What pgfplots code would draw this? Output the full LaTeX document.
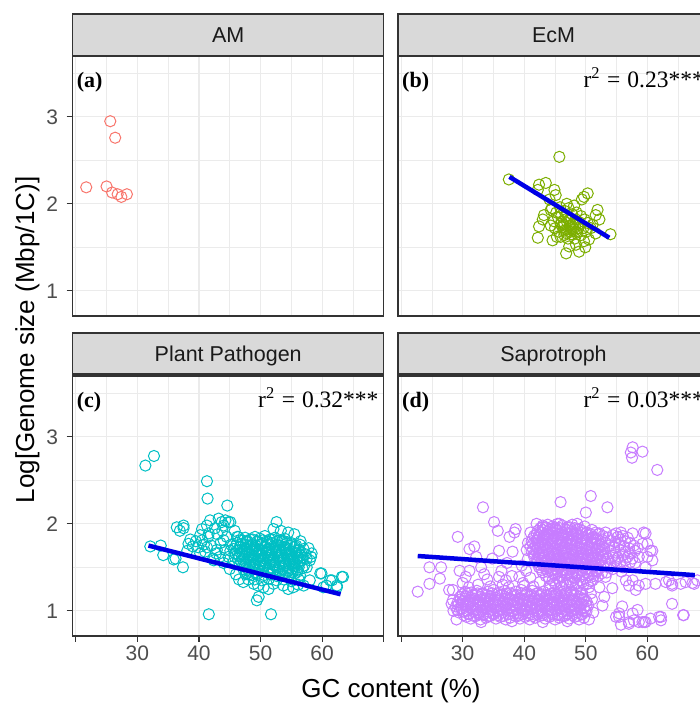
\documentclass[border=0pt]{standalone}
\usepackage{fontspec}
\setmainfont{Liberation Sans}
\newfontfamily\timesf{Liberation Serif}
\usepackage{pgfplots}
\pgfplotsset{compat=1.18}

\definecolor{amcol}{HTML}{F8766D}
\definecolor{ecmcol}{HTML}{7CAE00}
\definecolor{ppcol}{HTML}{00BFC4}
\definecolor{sapcol}{HTML}{C77CFF}
\definecolor{fitcol}{HTML}{0000E6}
\definecolor{gridc}{HTML}{EBEBEB}
\definecolor{borderc}{HTML}{333333}
\definecolor{stripc}{HTML}{D9D9D9}
\definecolor{tickc}{HTML}{4D4D4D}
\definecolor{stript}{HTML}{1A1A1A}

\pgfplotsset{
  facet/.style={
    scale only axis, width=311pt, height=260pt, anchor=south west,
    xmin=19.5, xmax=70, ymin=0.71, ymax=3.70,
    xtick={20,30,40,50,60,70}, xticklabels={,30,40,50,60,},
    ytick={1,2,3},
    minor xtick={25,35,45,55,65}, minor ytick={1.5,2.5,3.5},
    grid=both,
    major grid style={line width=1.1pt, color=gridc},
    minor grid style={line width=0.55pt, color=gridc},
    axis line style={line width=1.1pt, color=borderc},
    tick align=outside, major tick length=6pt, minor tick length=0pt,
    tick style={line width=1.1pt, color=borderc},
    xtick pos=bottom, ytick pos=left,
    ticklabel style={font=\fontsize{21}{24}\selectfont, text=tickc},
    yticklabel style={xshift=-5pt},
    /pgf/number format/assume math mode=true,
    clip marker paths=true,
  },
  pts/.style={only marks, mark=o, mark size=5.6pt, color=#1,
    mark options={line width=1pt}},
  regline/.style={no marks, line width=4.5pt, color=fitcol},
  notop/.style={xticklabels={}, xtick style={draw=none}},
  noleft/.style={yticklabels={}, ytick style={draw=none}},
}

\begin{document}
\begin{tikzpicture}
% (a) AM
\begin{axis}[facet, notop, at={(72.7pt,388pt)}]
\addplot[pts=amcol] coordinates {
 (21.7,2.19) (25.6,2.95) (26.4,2.76) (25.0,2.20) (25.9,2.13) (26.8,2.11)
 (27.4,2.08) (28.3,2.11)};
\end{axis}

% (b) EcM
\begin{axis}[facet, notop, noleft, at={(398pt,388pt)}]
\addplot[pts=ecmcol] coordinates {
 (37.5,2.28) (45.7,2.54) (42.2,1.61) (54.0,1.65) (42.4,2.22) (43.5,2.24)
 (42.2,2.16) (44.9,2.16) (45.1,2.10) (44.1,2.05) (49.7,2.08) (50.3,2.12)
 (49.35,2.05) (51.9,1.93) (51.6,1.87) (52.2,1.82) (51.1,1.76) (43.0,1.82)
 (43.2,1.87) (44.3,1.93) (42.4,1.74) (46.8,1.43) (48.9,1.45) (47.3,1.51)
 (48.4,1.53) (49.7,1.57) (50.5,1.59) (45.9,1.62) (51.6,1.66)
 (44.5,1.95) (45.2,1.90) (45.8,1.96) (46.5,1.92) (47.2,1.95) (47.8,1.88)
 (48.5,1.90) (49.2,1.86) (49.8,1.82) (50.3,1.78) (44.8,1.80) (45.5,1.84)
 (46.1,1.79) (46.7,1.85) (47.3,1.81) (47.9,1.77) (48.4,1.82) (49.0,1.76)
 (49.6,1.72) (50.1,1.68) (45.0,1.72) (45.6,1.68) (46.2,1.73) (46.8,1.70)
 (47.4,1.75) (48.0,1.71) (48.6,1.67) (49.2,1.64) (46.5,1.64) (47.1,1.60)
 (47.7,1.65) (48.2,1.60) (45.9,1.77) (46.4,1.69) (47.0,1.78) (47.6,1.72)
 (48.3,1.76) (46.0,1.86) (48.8,1.72) (47.5,1.68) (44.3,1.75) (45.3,1.62)
 (50.8,1.72) (48.1,1.98) (46.9,2.00) (44.6,1.58) (49.9,1.50)
 (46.3,1.76) (47.8,1.74) (46.9,1.66) (48.4,1.68) (47.0,1.83) (48.9,1.79)};
\addplot[regline] coordinates {(37.6,2.31) (53.8,1.61)};
\end{axis}

% (c) Plant Pathogen
\begin{axis}[facet, at={(72.7pt,68pt)}]
\addplot[pts=ppcol] coordinates {
 (31.3,2.67) (32.7,2.78) (41.3,2.49) (41.4,2.29) (44.6,2.21) (41.6,0.96)
 (51.7,0.96) (49.7,1.16) (49.4,1.12) (63.4,1.39) (59.9,1.43) (61.6,1.35)
 (60.7,1.29) (62.4,1.29) (61.3,1.35) (60.2,1.27) (32.1,1.74) (33.8,1.75)
 (34.2,1.64) (35.9,1.59) (36.2,1.60) (37.4,1.50) (36.4,1.96) (37.5,1.98)
 (36.9,1.92) (37.5,1.95) (38.6,1.82) (38.3,1.77) (40.2,1.87) (40.5,1.81)
 (39.9,1.73) (40.2,1.66) (41.8,2.04) (43.2,2.06) (43.7,2.02) (44.3,2.04)
 (45.1,2.02) (44.0,1.98) (44.8,2.02) (41.3,1.98) (40.5,1.94) (41.6,1.89)
 (52.6,2.02) (52.1,1.94) (58.3,1.66) (58.0,1.58) (57.5,1.50) (46.2,1.85)
 (46.7,1.81) (46.4,1.85) (45.1,1.69) (42.4,1.58) (42.9,1.70) (38.1,1.69)
 (41.3,1.73) (44.0,1.81)
 (42.0,1.75) (42.8,1.66) (43.5,1.78) (44.2,1.70) (44.8,1.62) (43.0,1.88)
 (43.8,1.92) (45.2,1.76) (44.5,1.85) (42.3,1.60) (41.0,1.68) (40.8,1.76)
 (39.5,1.80) (39.0,1.74) (41.5,1.85) (45.5,1.55) (44.0,1.55) (45.0,1.48)
 (46.0,1.42) (46.5,1.36) (47.2,1.33) (48.0,1.36) (45.8,1.92) (42.6,1.95)
 (43.4,1.62) (45.8,1.62)
 (54.5,1.90) (55.5,1.88) (56.5,1.80) (57.8,1.72) (58.2,1.62) (53.3,1.92)
 (47.8,1.43) (48.9,1.31) (50.5,1.27) (52.1,1.31) (53.7,1.29) (55.3,1.27)
 (57.0,1.29) (58.0,1.35) (59.7,1.43) (62.4,1.27) (63.2,1.39) (51.3,1.25)
 (54.5,1.25) (56.1,1.30) (49.6,1.29)
 (47.5,1.84) (48.3,1.82) (49.1,1.85) (49.9,1.83) (50.7,1.86) (51.5,1.82)
 (52.3,1.84) (53.1,1.81) (53.9,1.83)
 (46.2,1.78) (47.0,1.77) (47.8,1.79) (48.6,1.76) (49.4,1.79) (50.2,1.77)
 (51.0,1.80) (51.8,1.78) (52.6,1.76) (53.4,1.79) (54.2,1.77) (55.0,1.78)
 (55.8,1.75)
 (45.6,1.71) (46.6,1.73) (47.4,1.71) (48.2,1.73) (49.0,1.72) (49.8,1.70)
 (50.6,1.73) (51.4,1.71) (52.2,1.73) (53.0,1.70) (53.8,1.72) (54.6,1.71)
 (55.4,1.73) (56.2,1.70) (57.0,1.71)
 (45.9,1.66) (46.9,1.65) (47.7,1.67) (48.5,1.65) (49.3,1.66) (50.1,1.64)
 (50.9,1.67) (51.7,1.65) (52.5,1.67) (53.3,1.64) (54.1,1.66) (54.9,1.65)
 (55.7,1.67) (56.5,1.64) (57.3,1.65)
 (46.3,1.60) (47.2,1.59) (48.0,1.61) (48.8,1.59) (49.6,1.60) (50.4,1.58)
 (51.2,1.61) (52.0,1.59) (52.8,1.61) (53.6,1.58) (54.4,1.60) (55.2,1.59)
 (56.0,1.61) (56.8,1.58) (57.5,1.60)
 (46.6,1.54) (47.5,1.53) (48.3,1.55) (49.1,1.53) (49.9,1.54) (50.7,1.52)
 (51.5,1.55) (52.3,1.53) (53.1,1.55) (53.9,1.52) (54.7,1.54) (55.5,1.53)
 (56.3,1.55) (57.1,1.52)
 (47.2,1.48) (48.0,1.47) (48.8,1.49) (49.6,1.47) (50.4,1.48) (51.2,1.46)
 (52.0,1.49) (52.8,1.47) (53.6,1.48) (54.4,1.46) (55.2,1.48) (56.0,1.47)
 (56.8,1.49)
 (47.6,1.42) (48.6,1.41) (49.6,1.43) (50.6,1.41) (51.6,1.42) (52.6,1.40)
 (53.6,1.42) (54.6,1.41) (55.6,1.43) (56.4,1.41)
 (49.0,1.36) (50.2,1.35) (51.4,1.37) (52.6,1.35) (53.8,1.36) (55.0,1.34)
 (56.2,1.36)
 (47.1,1.81) (47.9,1.80) (48.7,1.82) (49.5,1.80) (50.3,1.81) (51.1,1.79)
 (51.9,1.82) (52.7,1.80) (53.5,1.81) (54.3,1.79)
 (46.0,1.75) (46.8,1.74) (47.6,1.76) (48.4,1.74) (49.2,1.75) (50.0,1.76)
 (50.8,1.74) (51.6,1.76) (52.4,1.74) (53.2,1.75) (54.0,1.73) (54.8,1.75)
 (55.6,1.74) (56.4,1.76)
 (46.2,1.69) (47.0,1.68) (47.8,1.70) (48.6,1.68) (49.4,1.69) (50.2,1.67)
 (51.0,1.70) (51.8,1.68) (52.6,1.69) (53.4,1.67) (54.2,1.70) (55.0,1.68)
 (55.8,1.69) (56.6,1.67)
 (46.5,1.63) (47.3,1.62) (48.1,1.64) (48.9,1.62) (49.7,1.63) (50.5,1.61)
 (51.3,1.64) (52.1,1.62) (52.9,1.63) (53.7,1.61) (54.5,1.64) (55.3,1.62)
 (56.1,1.63) (56.9,1.61)
 (46.8,1.57) (47.6,1.56) (48.4,1.58) (49.2,1.56) (50.0,1.57) (50.8,1.55)
 (51.6,1.58) (52.4,1.56) (53.2,1.57) (54.0,1.55) (54.8,1.58) (55.6,1.56)
 (56.4,1.57)
 (47.4,1.51) (48.2,1.50) (49.0,1.52) (49.8,1.50) (50.6,1.51) (51.4,1.49)
 (52.2,1.52) (53.0,1.50) (53.8,1.51) (54.6,1.49) (55.4,1.51) (56.2,1.50)
 (48.2,1.45) (49.1,1.44) (50.1,1.46) (51.1,1.44) (52.1,1.45) (53.1,1.43)
 (54.1,1.45) (55.1,1.44) (56.0,1.45)};
\addplot[regline] coordinates {(31.8,1.75) (63.0,1.19)};
\end{axis}

% (d) Saprotroph
\begin{axis}[facet, noleft, at={(398pt,68pt)}]
\addplot[pts=sapcol] coordinates {
 (22.7,1.22) (24.6,1.50) (26.5,1.50) (24.6,1.31) (26.3,1.37) (28.4,1.24)
 (27.8,1.24) (28.4,1.12) (29.2,1.85) (31.1,1.71) (31.9,1.74) (33.3,2.19)
 (35.1,2.02) (35.7,1.92) (37.6,1.85) (38.4,1.90) (38.6,1.94) (35.9,1.69)
 (38.1,1.68) (29.5,1.46) (30.5,1.39) (31.1,1.46) (33.0,1.50) (35.9,1.39)
 (37.0,1.35) (39.2,1.39) (40.3,1.46) (43.0,1.96) (43.2,1.87) (45.7,2.00)
 (45.1,1.94) (45.9,2.25) (50.8,2.32) (50.0,2.13) (53.5,2.19) (52.2,1.89)
 (53.2,1.90) (54.9,1.89) (55.7,1.90) (57.6,1.89) (59.4,1.90) (60.0,1.77)
 (60.5,1.69) (60.0,1.62) (59.7,1.50) (57.6,1.35) (58.6,1.29) (59.7,1.31)
 (61.3,1.31) (63.0,1.33) (64.0,1.29) (66.2,1.33) (67.3,1.32) (68.1,1.35)
 (58.1,1.24) (64.0,1.08) (65.9,0.95) (61.9,0.93) (62.2,0.89) (58.4,1.01)
 (57.8,0.89) (59.2,0.87) (59.7,0.87) (60.5,0.91) (55.4,0.97) (55.9,1.05)
 (57.0,0.85) (54.9,0.93) (52.7,1.06) (53.0,1.16) (54.3,1.26) (52.2,1.27)
 (51.6,1.47) (53.2,1.39) (51.1,1.35) (56.5,1.35) (57.0,1.29)
 (57.6,2.88) (57.3,2.82) (57.5,2.76) (59.2,2.83) (61.6,2.62)
 (55.4,0.93) (57.0,0.87) (58.6,0.87) (59.5,0.87) (57.6,0.97) (55.7,0.84)
 (59.2,1.77) (59.7,1.89) (60.8,1.69) (60.8,1.58) (64.0,1.31) (65.4,1.31)
 (63.5,1.35) (67.6,1.31) (62.2,0.93) (65.8,0.95)
 (32.5,1.30) (34.0,1.36) (36.5,1.30) (38.0,1.40) (39.8,1.32) (41.0,1.38)
 (30.0,1.32) (33.5,1.42) (41.5,1.28) (42.5,1.33) (34.8,1.60) (37.2,1.55)
 (39.6,1.52) (36.3,1.46) (32.2,1.62) (40.6,1.60)
 (31.0,1.27) (34.5,1.28) (37.5,1.27) (40.0,1.29) (28.5,1.00) (28.2,1.08)
 (29.0,0.90) (33.0,0.87) (38.0,0.88) (43.0,0.87) (47.0,0.88) (50.5,0.90)
 (51.2,0.98) (51.0,1.13) (50.8,1.20) (40.4,1.70) (40.6,1.78) (41.0,1.90)
 (42.0,2.00) (48.6,2.00) (49.8,1.97) (51.0,1.93) (56.8,1.84) (58.4,1.72)
 (58.6,1.62) (58.0,1.55) (56.0,1.50) (55.8,1.45) (53.4,1.44) (52.0,1.40)
 (44.9,1.32) (45.8,1.33) (46.7,1.31) (47.6,1.33) (48.5,1.32) (49.4,1.33)
 (50.3,1.31) (44.0,1.37) (45.0,1.41) (45.9,1.40) (46.8,1.41) (47.7,1.40)
 (48.6,1.41) (49.5,1.40) (50.4,1.41)
 (30.6,0.93) (31.3,0.91) (32.2,0.94) (32.9,0.90) (33.8,0.92) (34.5,0.94)
 (35.4,0.91) (36.1,0.93) (37.0,0.90) (37.7,0.92) (38.6,0.94) (39.3,0.91)
 (40.2,0.93) (40.9,0.90) (41.8,0.92) (42.5,0.94) (43.4,0.91) (44.1,0.93)
 (45.0,0.90) (45.7,0.92) (46.6,0.94) (47.3,0.91) (48.2,0.93) (48.9,0.90)
 (49.7,0.92)
 (29.4,0.98) (30.1,0.99) (31.0,0.97) (31.7,1.00) (32.6,0.98) (33.3,0.96)
 (34.2,0.99) (34.9,0.97) (35.8,1.00) (36.5,0.98) (37.4,0.96) (38.1,0.99)
 (39.0,0.97) (39.7,1.00) (40.6,0.98) (41.3,0.96) (42.2,0.99) (42.9,0.97)
 (43.8,1.00) (44.5,0.98) (45.4,0.96) (46.1,0.99) (47.0,0.97) (47.7,1.00)
 (48.6,0.98) (49.3,0.96) (50.1,0.99)
 (28.9,1.05) (29.7,1.03) (30.5,1.06) (31.3,1.04) (32.1,1.02) (32.9,1.05)
 (33.7,1.03) (34.5,1.06) (35.3,1.04) (36.1,1.02) (36.9,1.05) (37.7,1.03)
 (38.5,1.06) (39.3,1.04) (40.1,1.02) (40.9,1.05) (41.7,1.03) (42.5,1.06)
 (43.3,1.04) (44.1,1.02) (44.9,1.05) (45.7,1.03) (46.5,1.06) (47.3,1.04)
 (48.1,1.02) (48.9,1.05) (49.7,1.03) (50.4,1.06)
 (29.2,1.10) (30.0,1.11) (30.9,1.09) (31.7,1.12) (32.5,1.10) (33.3,1.08)
 (34.1,1.11) (34.9,1.09) (35.7,1.12) (36.5,1.10) (37.3,1.08) (38.1,1.11)
 (38.9,1.09) (39.7,1.12) (40.5,1.10) (41.3,1.08) (42.1,1.11) (42.9,1.09)
 (43.7,1.12) (44.5,1.10) (45.3,1.08) (46.1,1.11) (46.9,1.09) (47.7,1.12)
 (48.5,1.10) (49.3,1.08) (50.1,1.11)
 (29.6,1.16) (30.5,1.17) (31.3,1.15) (32.1,1.18) (32.9,1.16) (33.7,1.14)
 (34.5,1.17) (35.3,1.15) (36.1,1.18) (36.9,1.16) (37.7,1.14) (38.5,1.17)
 (39.3,1.15) (40.1,1.18) (40.9,1.16) (41.7,1.14) (42.5,1.17) (43.3,1.15)
 (44.1,1.18) (44.9,1.16) (45.7,1.14) (46.5,1.17) (47.3,1.15) (48.1,1.18)
 (48.9,1.16) (49.7,1.14)
 (30.4,1.22) (31.4,1.21) (32.3,1.23) (33.2,1.20) (34.1,1.22) (35.0,1.24)
 (35.9,1.21) (36.8,1.23) (37.7,1.20) (38.6,1.22) (39.5,1.24) (40.4,1.21)
 (41.3,1.23) (42.2,1.20) (43.1,1.22) (44.0,1.24) (44.9,1.21) (45.8,1.23)
 (46.7,1.20) (47.6,1.22) (48.5,1.24) (49.4,1.21)
 (30.2,0.95) (31.0,0.96) (31.8,0.94) (32.6,0.96) (33.4,0.95) (34.2,0.94)
 (35.0,0.96) (35.8,0.95) (36.6,0.94) (37.4,0.96) (38.2,0.95) (39.0,0.94)
 (39.8,0.96) (40.6,0.95) (41.4,0.94) (42.2,0.96) (43.0,0.95) (43.8,0.94)
 (44.6,0.96) (45.4,0.95) (46.2,0.94) (47.0,0.96) (47.8,0.95) (48.6,0.94)
 (49.4,0.96)
 (29.1,1.01) (29.9,1.02) (30.7,1.00) (31.5,1.02) (32.3,1.01) (33.1,1.00)
 (33.9,1.02) (34.7,1.01) (35.5,1.00) (36.3,1.02) (37.1,1.01) (37.9,1.00)
 (38.7,1.02) (39.5,1.01) (40.3,1.00) (41.1,1.02) (41.9,1.01) (42.7,1.00)
 (43.5,1.02) (44.3,1.01) (45.1,1.00) (45.9,1.02) (46.7,1.01) (47.5,1.00)
 (48.3,1.02) (49.1,1.01) (49.9,1.00)
 (29.3,1.07) (30.1,1.08) (30.9,1.06) (31.7,1.08) (32.5,1.07) (33.3,1.06)
 (34.1,1.08) (34.9,1.07) (35.7,1.06) (36.5,1.08) (37.3,1.07) (38.1,1.06)
 (38.9,1.08) (39.7,1.07) (40.5,1.06) (41.3,1.08) (42.1,1.07) (42.9,1.06)
 (43.7,1.08) (44.5,1.07) (45.3,1.06) (46.1,1.08) (46.9,1.07) (47.7,1.06)
 (48.5,1.08) (49.3,1.07) (50.1,1.06)
 (29.6,1.13) (30.4,1.14) (31.2,1.12) (32.0,1.14) (32.8,1.13) (33.6,1.12)
 (34.4,1.14) (35.2,1.13) (36.0,1.12) (36.8,1.14) (37.6,1.13) (38.4,1.12)
 (39.2,1.14) (40.0,1.13) (40.8,1.12) (41.6,1.14) (42.4,1.13) (43.2,1.12)
 (44.0,1.14) (44.8,1.13) (45.6,1.12) (46.4,1.14) (47.2,1.13) (48.0,1.12)
 (48.8,1.14) (49.6,1.13)
 (30.0,1.19) (30.8,1.20) (31.6,1.18) (32.4,1.20) (33.2,1.19) (34.0,1.18)
 (34.8,1.20) (35.6,1.19) (36.4,1.18) (37.2,1.20) (38.0,1.19) (38.8,1.18)
 (39.6,1.20) (40.4,1.19) (41.2,1.18) (42.0,1.20) (42.8,1.19) (43.6,1.18)
 (44.4,1.20) (45.2,1.19) (46.0,1.18) (46.8,1.20) (47.6,1.19) (48.4,1.18)
 (49.2,1.20)
 (44.2,1.28) (45.1,1.30) (46.0,1.27) (46.9,1.29) (47.8,1.31) (48.7,1.28)
 (49.6,1.30) (50.5,1.27) (44.6,1.35) (45.5,1.37) (46.4,1.34) (47.3,1.36)
 (48.2,1.38) (49.1,1.35) (50.0,1.37) (50.8,1.34) (43.5,1.40) (51.3,1.40)
 (43.0,1.98) (43.8,1.99) (44.6,1.97) (45.4,2.00) (46.2,1.98) (47.0,1.96)
 (47.8,1.99)
 (42.2,1.92) (43.0,1.93) (43.8,1.91) (44.6,1.94) (45.4,1.92) (46.2,1.90)
 (47.0,1.93) (47.8,1.91) (48.6,1.94) (49.4,1.92) (50.2,1.90)
 (41.6,1.86) (42.4,1.87) (43.2,1.85) (44.0,1.88) (44.8,1.86) (45.6,1.84)
 (46.4,1.87) (47.2,1.85) (48.0,1.88) (48.8,1.86) (49.6,1.84) (50.4,1.87)
 (51.2,1.85) (52.0,1.88) (52.8,1.86) (53.6,1.84) (54.4,1.87) (55.2,1.85)
 (56.0,1.86)
 (41.2,1.80) (42.0,1.81) (42.8,1.79) (43.6,1.82) (44.4,1.80) (45.2,1.78)
 (46.0,1.81) (46.8,1.79) (47.6,1.82) (48.4,1.80) (49.2,1.78) (50.0,1.81)
 (50.8,1.79) (51.6,1.82) (52.4,1.80) (53.2,1.78) (54.0,1.81) (54.8,1.79)
 (55.6,1.82) (56.4,1.80) (57.2,1.78)
 (41.0,1.74) (41.8,1.75) (42.6,1.73) (43.4,1.76) (44.2,1.74) (45.0,1.72)
 (45.8,1.75) (46.6,1.73) (47.4,1.76) (48.2,1.74) (49.0,1.72) (49.8,1.75)
 (50.6,1.73) (51.4,1.76) (52.2,1.74) (53.0,1.72) (53.8,1.75) (54.6,1.73)
 (55.4,1.76) (56.2,1.74) (57.0,1.72) (57.8,1.75)
 (41.2,1.68) (42.0,1.69) (42.8,1.67) (43.6,1.70) (44.4,1.68) (45.2,1.66)
 (46.0,1.69) (46.8,1.67) (47.6,1.70) (48.4,1.68) (49.2,1.66) (50.0,1.69)
 (50.8,1.67) (51.6,1.70) (52.4,1.68) (53.2,1.66) (54.0,1.69) (54.8,1.67)
 (55.6,1.70) (56.4,1.68) (57.2,1.66) (58.0,1.69)
 (41.6,1.62) (42.4,1.63) (43.2,1.61) (44.0,1.64) (44.8,1.62) (45.6,1.60)
 (46.4,1.63) (47.2,1.61) (48.0,1.64) (48.8,1.62) (49.6,1.60) (50.4,1.63)
 (51.2,1.61) (52.0,1.64) (52.8,1.62) (53.6,1.60) (54.4,1.63) (55.2,1.61)
 (56.0,1.64) (56.8,1.62) (57.6,1.60)
 (42.0,1.56) (42.8,1.57) (43.6,1.55) (44.4,1.58) (45.2,1.56) (46.0,1.54)
 (46.8,1.57) (47.6,1.55) (48.4,1.58) (49.2,1.56) (50.0,1.54) (50.8,1.57)
 (51.6,1.55) (52.4,1.58) (53.2,1.56) (54.0,1.54) (54.8,1.57) (55.6,1.55)
 (56.4,1.58) (57.2,1.56)
 (42.4,1.50) (43.2,1.51) (44.0,1.49) (44.8,1.52) (45.6,1.50) (46.4,1.48)
 (47.2,1.51) (48.0,1.49) (48.8,1.52) (49.6,1.50) (50.4,1.48) (51.2,1.51)
 (52.0,1.49) (52.8,1.52) (53.6,1.50) (54.4,1.48) (55.0,1.51)
 (43.0,1.44) (43.8,1.45) (44.6,1.43) (45.4,1.46) (46.2,1.44) (47.0,1.42)
 (47.8,1.45) (48.6,1.43) (49.4,1.46) (50.2,1.44) (51.0,1.42) (51.8,1.45)
 (52.6,1.43)
 (42.6,1.95) (43.4,1.96) (44.2,1.94) (45.0,1.96) (45.8,1.95) (46.6,1.94)
 (47.4,1.96) (48.2,1.95) (49.0,1.94)
 (42.0,1.89) (42.8,1.90) (43.6,1.88) (44.4,1.90) (45.2,1.89) (46.0,1.88)
 (46.8,1.90) (47.6,1.89) (48.4,1.88) (49.2,1.90) (50.0,1.89) (50.8,1.88)
 (51.6,1.90)
 (41.4,1.83) (42.2,1.84) (43.0,1.82) (43.8,1.84) (44.6,1.83) (45.4,1.82)
 (46.2,1.84) (47.0,1.83) (47.8,1.82) (48.6,1.84) (49.4,1.83) (50.2,1.82)
 (51.0,1.84) (51.8,1.83) (52.6,1.82)
 (41.4,1.77) (42.2,1.78) (43.0,1.76) (43.8,1.78) (44.6,1.77) (45.4,1.76)
 (46.2,1.78) (47.0,1.77) (47.8,1.76) (48.6,1.78) (49.4,1.77) (50.2,1.76)
 (51.0,1.78) (51.8,1.77) (52.6,1.76)
 (41.4,1.71) (42.2,1.72) (43.0,1.70) (43.8,1.72) (44.6,1.71) (45.4,1.70)
 (46.2,1.72) (47.0,1.71) (47.8,1.70) (48.6,1.72) (49.4,1.71) (50.2,1.70)
 (51.0,1.72) (51.8,1.71) (52.6,1.70)
 (41.6,1.65) (42.4,1.66) (43.2,1.64) (44.0,1.66) (44.8,1.65) (45.6,1.64)
 (46.4,1.66) (47.2,1.65) (48.0,1.64) (48.8,1.66) (49.6,1.65) (50.4,1.64)
 (51.2,1.66) (52.0,1.65) (52.8,1.64)
 (42.0,1.59) (42.8,1.60) (43.6,1.58) (44.4,1.60) (45.2,1.59) (46.0,1.58)
 (46.8,1.60) (47.6,1.59) (48.4,1.58) (49.2,1.60) (50.0,1.59) (50.8,1.58)
 (51.6,1.60) (52.4,1.59)
 (42.4,1.53) (43.2,1.54) (44.0,1.52) (44.8,1.54) (45.6,1.53) (46.4,1.52)
 (47.2,1.54) (48.0,1.53) (48.8,1.52) (49.6,1.54) (50.4,1.53) (51.2,1.52)
 (52.0,1.54)
 (42.8,1.47) (43.6,1.48) (44.4,1.46) (45.2,1.48) (46.0,1.47) (46.8,1.46)
 (47.6,1.48) (48.4,1.47) (49.2,1.46) (50.0,1.48) (50.8,1.47) (51.6,1.46)};
\addplot[regline] coordinates {(22.7,1.63) (67.7,1.41)};
\end{axis}

% facet strips
\tikzset{strip/.style={fill=stripc, draw=borderc, line width=1.1pt}}
\path[strip] (72.7pt,648pt) rectangle (383.7pt,690pt);
\path[strip] (398pt,648pt) rectangle (709pt,690pt);
\path[strip] (72.7pt,330pt) rectangle (383.7pt,371pt);
\path[strip] (398pt,330pt) rectangle (709pt,371pt);
\begin{scope}[every node/.style={anchor=base, text=stript,
    font=\fontsize{21.5}{24}\selectfont}]
\node at (228.2pt,661.3pt) {AM};
\node at (553.5pt,661.3pt) {EcM};
\node at (228.2pt,342.5pt) {Plant Pathogen};
\node at (553.5pt,342.5pt) {Saprotroph};
\end{scope}

% panel tags and r^2
\begin{scope}[every node/.style={inner sep=0pt}]
\node[anchor=base west, font=\timesf\bfseries\fontsize{22}{24}\selectfont]
  at (76.7pt,616pt) {(a)};
\node[anchor=base west, font=\timesf\bfseries\fontsize{22}{24}\selectfont]
  at (402pt,616pt) {(b)};
\node[anchor=base west, font=\timesf\bfseries\fontsize{22}{24}\selectfont]
  at (76.7pt,296.5pt) {(c)};
\node[anchor=base west, font=\timesf\bfseries\fontsize{22}{24}\selectfont]
  at (402pt,296.5pt) {(d)};
\node[anchor=base east, font=\timesf\fontsize{23.5}{26}\selectfont]
  at (704pt,616pt) {r\textsuperscript{2}\hspace{0.3em}=\hspace{0.3em}0.23***};
\node[anchor=base east, font=\timesf\fontsize{23.5}{26}\selectfont]
  at (378.7pt,296.5pt) {r\textsuperscript{2}\hspace{0.3em}=\hspace{0.3em}0.32***};
\node[anchor=base east, font=\timesf\fontsize{23.5}{26}\selectfont]
  at (704pt,296.5pt) {r\textsuperscript{2}\hspace{0.3em}=\hspace{0.3em}0.03***};
\end{scope}

% axis titles
\node[anchor=base, font=\fontsize{26}{30}\selectfont] at (391pt,6.7pt)
  {GC content (\%)};
\node[anchor=base, rotate=90, font=\fontsize{26}{30}\selectfont] at (34pt,364pt)
  {Log[Genome size (Mbp/1C)]};

\pgfresetboundingbox
\path[use as bounding box] (0pt,0pt) rectangle (699pt,704pt);
\end{tikzpicture}
\end{document}
